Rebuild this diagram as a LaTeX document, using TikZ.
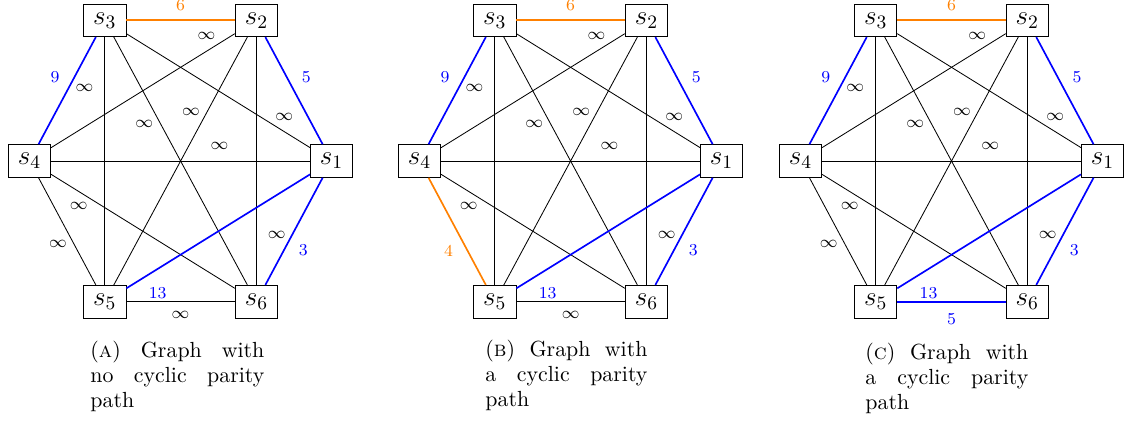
\RequirePackage{fix-cm}
\documentclass[tikz,border=0pt]{standalone}
\usepackage{tikz}
\usetikzlibrary{positioning}
\tikzset{
  vert/.style={rectangle,draw,minimum width=20.3pt,minimum height=15.7pt,inner sep=0pt,font=\fontsize{13pt}{15pt}\selectfont},
  wlab/.style={font=\footnotesize},
  blueedge/.style={blue,thick},
  orangeedge/.style={orange,thick},
  subcap/.style={anchor=base west,inner sep=0pt,align=justify,font=\fontsize{10.5pt}{12pt}\selectfont}
}

\begin{document}
\begin{tikzpicture}[x=0.48pt,y=-0.48pt]
\useasboundingbox (0,0) rectangle (1129,423);

% (a) no cyclic parity path
\begin{scope}[shift={(180.6,161)}]
\node[vert] (a1) at (151,0) {$s_1$};
\node[vert] (a2) at (75.8,-140.7) {$s_2$};
\node[vert] (a3) at (-75.8,-140.7) {$s_3$};
\node[vert] (a4) at (-151,0) {$s_4$};
\node[vert] (a5) at (-75.8,140.7) {$s_5$};
\node[vert] (a6) at (75.8,140.7) {$s_6$};
\draw (a2) -- node[wlab,pos=0.155,above=2pt] {$\infty$} (a4);
\draw (a3) -- node[wlab,pos=0.205,left=2pt] {$\infty$} (a5);
\draw (a2) -- node[wlab,pos=0.3,left] {$\infty$} (a5);
\draw (a3) -- node[wlab,pos=0.35,left] {$\infty$} (a6);
\draw (a3) -- node[wlab,pos=0.86,above=2pt] {$\infty$} (a1);
\draw (a4) -- node[wlab,pos=0.65,above=2pt] {$\infty$} (a1);
\draw (a4) -- node[wlab,pos=0.15,below=1.5pt] {$\infty$} (a6);
\draw (a4) -- node[wlab,pos=0.62,left] {$\infty$} (a5);
\draw (a2) -- node[wlab,pos=0.8,right=2pt] {$\infty$} (a6);
\draw (a5) -- node[wlab,midway,below=1pt] {$\infty$} (a6);
\draw[orangeedge] (a3) -- node[wlab,midway,above=0.8pt] {6} (a2);
\draw[blueedge] (a2) -- node[wlab,midway,above right] {5} (a1);
\draw[blueedge] (a1) -- node[wlab,pos=0.55,below right] {3} (a6);
\draw[blueedge] (a3) -- node[wlab,midway,above left] {9} (a4);
\draw[blueedge] (a1) -- node[wlab,pos=0.92,below right] {13} (a5);
\end{scope}

% (b) cyclic parity path
\begin{scope}[shift={(570.6,161)}]
\node[vert] (b1) at (151,0) {$s_1$};
\node[vert] (b2) at (75.8,-140.7) {$s_2$};
\node[vert] (b3) at (-75.8,-140.7) {$s_3$};
\node[vert] (b4) at (-151,0) {$s_4$};
\node[vert] (b5) at (-75.8,140.7) {$s_5$};
\node[vert] (b6) at (75.8,140.7) {$s_6$};
\draw (b2) -- node[wlab,pos=0.155,above=2pt] {$\infty$} (b4);
\draw (b3) -- node[wlab,pos=0.205,left=2pt] {$\infty$} (b5);
\draw (b2) -- node[wlab,pos=0.3,left] {$\infty$} (b5);
\draw (b3) -- node[wlab,pos=0.35,left] {$\infty$} (b6);
\draw (b3) -- node[wlab,pos=0.86,above=2pt] {$\infty$} (b1);
\draw (b4) -- node[wlab,pos=0.65,above=2pt] {$\infty$} (b1);
\draw (b4) -- node[wlab,pos=0.15,below=1.5pt] {$\infty$} (b6);
\draw (b2) -- node[wlab,pos=0.8,right=2pt] {$\infty$} (b6);
\draw (b5) -- node[wlab,midway,below=1pt] {$\infty$} (b6);
\draw[orangeedge] (b3) -- node[wlab,midway,above=0.8pt] {6} (b2);
\draw[orangeedge] (b4) -- node[wlab,pos=0.56,below left] {4} (b5);
\draw[blueedge] (b2) -- node[wlab,midway,above right] {5} (b1);
\draw[blueedge] (b1) -- node[wlab,pos=0.55,below right] {3} (b6);
\draw[blueedge] (b3) -- node[wlab,midway,above left] {9} (b4);
\draw[blueedge] (b1) -- node[wlab,pos=0.92,below right] {13} (b5);
\end{scope}

% (c) cyclic parity path
\begin{scope}[shift={(951.5,161)}]
\node[vert] (c1) at (151,0) {$s_1$};
\node[vert] (c2) at (75.8,-140.7) {$s_2$};
\node[vert] (c3) at (-75.8,-140.7) {$s_3$};
\node[vert] (c4) at (-151,0) {$s_4$};
\node[vert] (c5) at (-75.8,140.7) {$s_5$};
\node[vert] (c6) at (75.8,140.7) {$s_6$};
\draw (c2) -- node[wlab,pos=0.155,above=2pt] {$\infty$} (c4);
\draw (c3) -- node[wlab,pos=0.205,left=2pt] {$\infty$} (c5);
\draw (c2) -- node[wlab,pos=0.3,left] {$\infty$} (c5);
\draw (c3) -- node[wlab,pos=0.35,left] {$\infty$} (c6);
\draw (c3) -- node[wlab,pos=0.86,above=2pt] {$\infty$} (c1);
\draw (c4) -- node[wlab,pos=0.65,above=2pt] {$\infty$} (c1);
\draw (c4) -- node[wlab,pos=0.15,below=1.5pt] {$\infty$} (c6);
\draw (c4) -- node[wlab,pos=0.62,left] {$\infty$} (c5);
\draw (c2) -- node[wlab,pos=0.8,right=2pt] {$\infty$} (c6);
\draw[orangeedge] (c3) -- node[wlab,midway,above=0.8pt] {6} (c2);
\draw[blueedge] (c2) -- node[wlab,midway,above right] {5} (c1);
\draw[blueedge] (c1) -- node[wlab,pos=0.55,below right] {3} (c6);
\draw[blueedge] (c3) -- node[wlab,midway,above left] {9} (c4);
\draw[blueedge] (c1) -- node[wlab,pos=0.92,below right] {13} (c5);
\draw[blueedge] (c5) -- node[wlab,midway,below=2pt] {5} (c6);
\end{scope}

% sub-captions
\node[subcap,text width=83.5pt] (capa) at (90,357) {(\textsc{a})\ Graph with\linebreak no cyclic parity\linebreak path};
\node[subcap,text width=77.8pt] (capb) at (485,356) {(\textsc{b})\ Graph with\linebreak a cyclic parity\linebreak path};
\node[subcap,text width=78.2pt] (capc) at (865,359) {(\textsc{c})\ Graph with\linebreak a cyclic parity\linebreak path};
\end{tikzpicture}
\end{document}
